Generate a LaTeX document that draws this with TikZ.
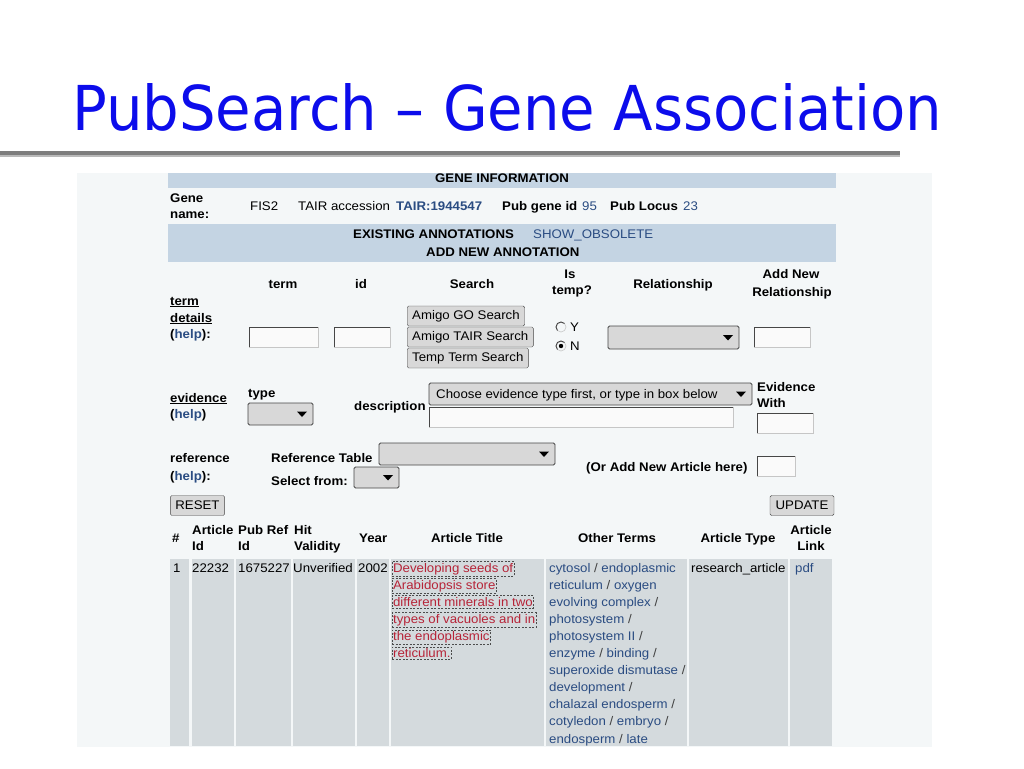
\documentclass[tikz,border=0pt]{standalone}
\usepackage{fontspec}
\usepackage{graphicx}
\setmainfont{Liberation Sans}[FakeStretch=1.06]
\newfontfamily\titlefont{DejaVu Sans}
\usetikzlibrary{calc}

\definecolor{titleblue}{RGB}{12,12,235}
\definecolor{rulegray}{RGB}{125,125,125}
\definecolor{rulelight}{RGB}{185,185,185}
\definecolor{screenbg}{RGB}{244,247,248}
\definecolor{barblue}{RGB}{196,212,227}
\definecolor{cellgray}{RGB}{212,218,221}
\definecolor{linkblue}{RGB}{42,76,130}
\definecolor{titlered}{RGB}{182,36,56}
\definecolor{btngray}{RGB}{216,216,216}
\definecolor{edgedark}{RGB}{70,70,70}

\newcommand\slsh{\textcolor{black!75}{/}}
\newcommand\helplink{(\textcolor{linkblue}{help})}

\tikzset{
  val/.style={inner sep=0pt, anchor=base west, font=\fontsize{12.5}{15}\selectfont},
  lbl/.style={val, font=\bfseries\fontsize{12.5}{15}\selectfont},
  lnk/.style={val, text=linkblue},
  hdr/.style={lbl, anchor=base},
  btn/.style={draw=edgedark, fill=btngray, rounded corners=1.5pt, inner xsep=5pt, inner ysep=0pt,
    minimum height=20pt, anchor=west, font=\fontsize{12.5}{15}\selectfont},
  selbox/.style={draw=edgedark, fill=btngray, rounded corners=1.5pt, line width=.8pt},
  inbox/.style={fill=white!96!gray, draw=gray!45},
}

\begin{document}
\begin{tikzpicture}[x=1pt,y=-1pt]
\useasboundingbox (0,0) rectangle (1024,768);

% slide title and rule
\node[anchor=base west, inner sep=0pt, text=titleblue] (title) at (72,130)
  {\resizebox{870pt}{47pt}{\titlefont PubSearch – Gene Association}};
\fill[rulegray] (0,151) rectangle (900,155);
\fill[rulelight] (0,155) rectangle (900,157);

% screenshot background and bars
\fill[screenbg] (77,173) rectangle (932,747);
\fill[barblue] (168,173) rectangle (836,188);
\fill[barblue] (168,224) rectangle (836,262);

\node[hdr] (geneinfo) at (502,182) {GENE INFORMATION};
\node[lbl] (gene) at (170,202) {Gene};
\node[lbl] (gname) at (170,218) {name:};
\node[val] (fis) at (250,210) {FIS2};
\node[val] (tairacc) at (298,210) {TAIR accession};
\node[lbl, text=linkblue] (tairid) at (396,210) {TAIR:1944547};
\node[lbl] (pubgene) at (502,210) {Pub gene id};
\node[lnk] (pubgeneval) at (582,210) {95};
\node[lbl] (publocus) at (610,210) {Pub Locus};
\node[lnk] (publocusval) at (683,210) {23};

\node[lbl] (existing) at (353,238) {EXISTING ANNOTATIONS};
\node[lnk] (obsolete) at (533,238) {SHOW\_OBSOLETE};
\node[lbl] (addnew) at (426,256) {ADD NEW ANNOTATION};

% term details
\node[hdr] (hterm) at (283,288) {term};
\node[hdr] (hid) at (361,288) {id};
\node[hdr] (hsearch) at (472,288) {Search};
\node[hdr] (his) at (570,278) {Is};
\node[hdr] (htemp) at (572,294) {temp?};
\node[hdr] (hrel) at (673,288) {Relationship};
\node[hdr] (haddnew) at (791,278) {Add New};
\node[hdr] (haddrel) at (792,296) {Relationship};

\node[lbl] (term) at (170,305) {\underline{term}};
\node[lbl] (details) at (170,322) {\underline{details}};
\node[lbl] (termhelp) at (170,338) {\helplink:};

\node[btn] (gosearch) at (407,316) {Amigo GO Search};
\node[btn] (tairsearch) at (407,337) {Amigo TAIR Search};
\node[btn] (tempsearch) at (407,358) {Temp Term Search};

% radio buttons
\foreach \ry/\rl in {327/Y,346/N} {
  \draw[gray!40, line width=.7pt] (561,\ry) circle (5);
  \draw[edgedark, line width=.9pt] ([shift={(135:5)}]561,\ry) arc[start angle=135, end angle=315, radius=5];
  \node[val, anchor=west] (radio\rl) at (570,\ry) {\rl};
}
\fill[black] (561,346) circle (2.2);

% evidence
\node[lbl] (evidence) at (170,402) {\underline{evidence}};
\node[lbl] (evhelp) at (170,418) {\helplink};
\node[lbl] (evtype) at (248,397) {type};
\node[lbl] (evdesc) at (354,410) {description};
\node[lbl] (evwith) at (757,391) {Evidence};
\node[lbl] (evwith2) at (757,407) {With};

% reference
\node[lbl] (reference) at (170,462) {reference};
\node[lbl] (refhelp) at (170,480) {\helplink:};
\node[lbl] (reftable) at (271,462) {Reference Table};
\node[lbl] (refselect) at (271,485) {Select from:};
\node[lbl] (refnew) at (586,471) {(Or Add New Article here)};

% text boxes
\foreach \xa/\ya/\xb/\yb in {249/327/318/347, 334/327/390/347, 754/327/810/347,
    429/407/733/427, 757/413/813/433, 757/456/795/476} {
  \draw[inbox] (\xa,\ya) rectangle (\xb,\yb);
  \draw[edgedark, line width=.8pt] (\xa,\yb) -- (\xa,\ya) -- (\xb,\ya);
}

% drop-down boxes
\foreach \xa/\ya/\xb/\yb in {608/326/739/349, 248/403/313/425, 429/383/752/405,
    379/443/555/465, 354/467/399/488} {
  \draw[selbox] (\xa,\ya) rectangle (\xb,\yb);
  \fill[black] (\xb-16,{(\ya+\yb)/2-2.5}) -- ++(10,0) -- ++(-5,5.5) -- cycle;
}
\node[val] (evchoose) at (436,398) {Choose evidence type first, or type in box below};

\node[btn, anchor=center, minimum width=54pt] (reset) at (197.5,505.5) {RESET};
\node[btn, anchor=center, minimum width=64pt] (update) at (802,505.5) {UPDATE};

% result table
\node[lbl] (tnum) at (172,542) {\#};
\node[lbl] (tart) at (192,534) {Article};
\node[lbl] (tartid) at (192,550) {Id};
\node[lbl] (tpub) at (238,534) {Pub Ref};
\node[lbl] (tpubid) at (238,550) {Id};
\node[lbl] (thit) at (294,534) {Hit};
\node[lbl] (thitval) at (294,550) {Validity};
\node[lbl] (tyear) at (359,542) {Year};
\node[hdr] (ttitle) at (467,542) {Article Title};
\node[hdr] (tother) at (617,542) {Other Terms};
\node[hdr] (ttype) at (738,542) {Article Type};
\node[hdr] (tlink) at (811,534) {Article};
\node[hdr] (tlink2) at (811,550) {Link};

\foreach \xa/\xb in {170/189, 192/234, 236/291, 293/355, 357/389, 391/544, 546/687, 689/788, 790/832}
  \fill[cellgray] (\xa,559) rectangle (\xb,746);

\node[val] (rnum) at (173,572) {1};
\node[val] (rart) at (192,572) {22232};
\node[val] (rpub) at (238,572) {1675227};
\node[val] (rhit) at (293,572) {Unverified};
\node[val] (ryear) at (358,572) {2002};
\node[val] (rtype) at (691,572) {research\_article};
\node[lnk] (rlink) at (795,572) {pdf};

\foreach \txt [count=\i] in {Developing seeds of, Arabidopsis store, different minerals in two,
    types of vacuoles and in, the endoplasmic, reticulum.}
  \node[val, text=titlered, draw=black!70, dashed, dash pattern=on 2pt off 1.5pt,
    inner xsep=.8pt, inner ysep=1.5pt, line width=.6pt] (atitle\i) at (392,{572+17.1*(\i-1)}) {\txt};

\foreach \txt [count=\i] in {{cytosol \slsh{} endoplasmic}, {reticulum \slsh{} oxygen},
    {evolving complex \slsh}, {photosystem \slsh}, {photosystem II \slsh},
    {enzyme \slsh{} binding \slsh}, {superoxide dismutase \slsh}, {development \slsh},
    {chalazal endosperm \slsh}, {cotyledon \slsh{} embryo \slsh}, {endosperm \slsh{} late}}
  \node[lnk] (oterm\i) at (549,{572+17.1*(\i-1)}) {\txt};
\end{tikzpicture}
\end{document}
